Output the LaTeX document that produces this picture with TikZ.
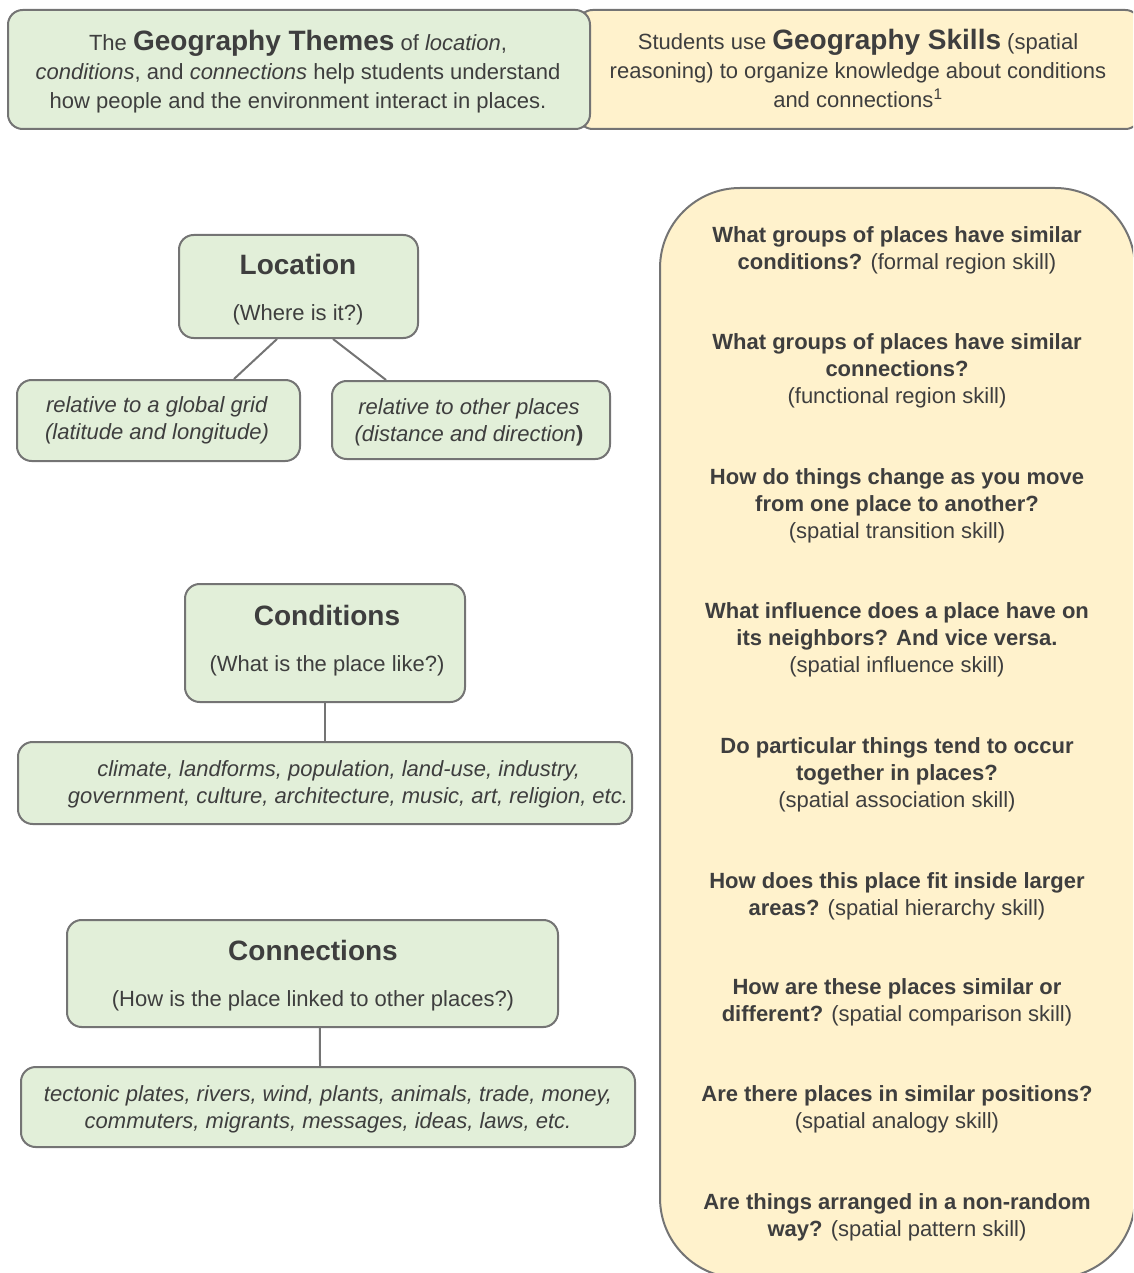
\documentclass[tikz,border=0pt]{standalone}
\usepackage{fontspec}
\setmainfont{Liberation Sans}
\usetikzlibrary{positioning}
\definecolor{themeG}{HTML}{E2EFD9}
\definecolor{skillY}{HTML}{FFF2CC}
\definecolor{rim}{HTML}{747474}
\definecolor{ink}{HTML}{3E3E3E}
\newcommand{\bigbf}[1]{{\fontsize{21}{24}\selectfont\bfseries #1}}

\begin{document}
\begin{tikzpicture}[x=0.75pt,y=-0.75pt,
  box/.style={draw=rim,line width=1.5pt,rounded corners=11pt,inner sep=0pt},
  theme/.style={box,fill=themeG},
  skill/.style={box,fill=skillY},
  txt/.style={text=ink,font=\fontsize{16.5}{20.5}\selectfont,align=center,inner sep=0pt},
  head/.style={text=ink,font=\fontsize{21}{24}\selectfont\bfseries,inner sep=0pt},
  link/.style={draw=rim,line width=1.5pt}]
  \useasboundingbox (0,0) rectangle (1133,1273);
  \clip (0,0) rectangle (1133,1273);
  % banners (the yellow one lies under the green one)
  \node (skillbanner) [skill,minimum width=562*0.75pt,minimum height=119*0.75pt] at (859,69.5) {};
  \node (themebanner) [theme,minimum width=582*0.75pt,minimum height=119*0.75pt] at (299,69.5) {};
  \node (themetext) [txt,font=\fontsize{16.5}{21.75}\selectfont] at (298,71.5)
    {The \bigbf{Geography Themes} of \textit{location},\\
     \textit{conditions}, and \textit{connections} help students understand\\
     how people and the environment interact in places.};
  \node (skilltext) [txt,font=\fontsize{16.5}{21.75}\selectfont] at (858,68.5)
    {Students use \bigbf{Geography Skills} (spatial\\
     reasoning) to organize knowledge about conditions\\
     and connections\textsuperscript{1}};
  % location
  \node (loc) [theme,minimum width=239*0.75pt,minimum height=103*0.75pt] at (298.5,286.5) {};
  \node (lochead) [head] at (298,264) {Location};
  \node (locsub) [txt] at (298,315) {(Where is it?)};
  \node (grid) [theme,minimum width=283*0.75pt,minimum height=81*0.75pt] at (158.5,420.5) {};
  \node (gridtext) [txt] at (157,420.5) {\textit{relative to a global grid}\\\textit{(latitude and longitude)}};
  \node (places) [theme,minimum width=278*0.75pt,minimum height=78*0.75pt] at (471,420) {};
  \node (placestext) [txt] at (469,422.5) {\textit{relative to other places}\\\textit{(distance and direction}\textbf{)}};
  \draw[link] ([xshift=-16.1pt]loc.south) -- ([xshift=56.6pt]grid.north);
  \draw[link] ([xshift=25.9pt]loc.south) -- ([xshift=-63.7pt]places.north);
  % conditions
  \node (cond) [theme,minimum width=280*0.75pt,minimum height=118*0.75pt] at (325,643) {};
  \node (condhead) [head] at (327,615) {Conditions};
  \node (condsub) [txt] at (327,666) {(What is the place like?)};
  \node (condlist) [theme,minimum width=614*0.75pt,minimum height=82*0.75pt] at (325,783) {};
  \node (condtext) [txt] at (348,784.5) {\textit{climate, landforms, population, land-use, industry,}\hspace*{14pt}\\
    \textit{government, culture, architecture, music, art, religion, etc.}};
  \draw[link] (cond.south) -- (condlist.north);
  % connections
  \node (conn) [theme,minimum width=491*0.75pt,minimum height=107*0.75pt] at (312.5,973.5) {};
  \node (connhead) [head] at (313,950) {Connections};
  \node (connsub) [txt] at (313,1001) {(How is the place linked to other places?)};
  \node (connlist) [theme,minimum width=614*0.75pt,minimum height=80*0.75pt] at (328,1107) {};
  \node (conntext) [txt] at (328,1109.5) {\textit{tectonic plates, rivers, wind, plants, animals, trade, money,}\\
    \textit{commuters, migrants, messages, ideas, laws, etc.}};
  \draw[link] ([xshift=5.6pt]conn.south) -- ([xshift=-6pt]connlist.north);
  % skills panel
  \node (panel) [skill,rounded corners=60pt,minimum width=475*0.75pt,minimum height=1090*0.75pt] at (897.5,733) {};
  \foreach \n/\y/\q in {
      formal/250.5/{\textbf{What groups of places have similar}\\\textbf{conditions?} (formal region skill)},
      functional/371/{\textbf{What groups of places have similar}\\\textbf{connections?}\\(functional region skill)},
      transition/506/{\textbf{How do things change as you move}\\\textbf{from one place to another?}\\(spatial transition skill)},
      influence/640/{\textbf{What influence does a place have on}\\\textbf{its neighbors? And vice versa.}\\(spatial influence skill)},
      association/775/{\textbf{Do particular things tend to occur}\\\textbf{together in places?}\\(spatial association skill)},
      hierarchy/896.5/{\textbf{How does this place fit inside larger}\\\textbf{areas?} (spatial hierarchy skill)},
      comparison/1002.5/{\textbf{How are these places similar or}\\\textbf{different?} (spatial comparison skill)},
      analogy/1109.5/{\textbf{Are there places in similar positions?}\\(spatial analogy skill)},
      pattern/1217.5/{\textbf{Are things arranged in a non-random}\\\textbf{way?} (spatial pattern skill)}}
    {\node (\n) [txt,font=\fontsize{16.5}{20.25}\selectfont] at (897,\y) {\q};}
\end{tikzpicture}
\end{document}
